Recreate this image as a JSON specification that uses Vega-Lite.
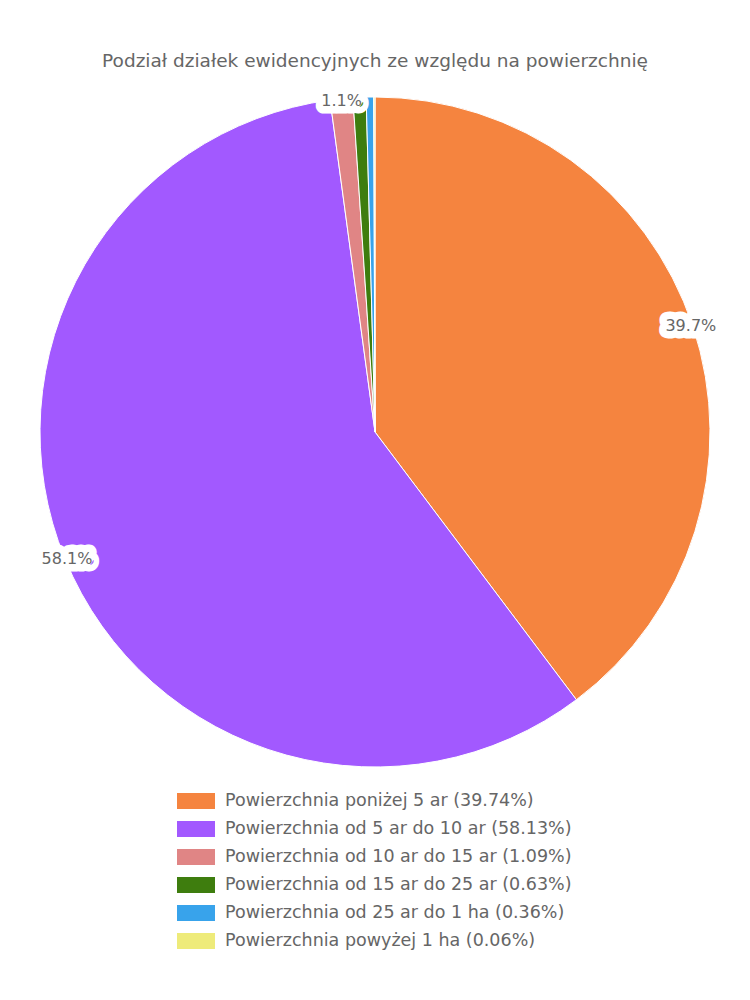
{
  "$schema": "https://vega.github.io/schema/vega-lite/v6.json",
  "width": 750,
  "height": 700,
  "padding": {"top": 51, "left": 0, "right": 0, "bottom": 0},
  "background": "white",
  "title": {
    "text": "Podział działek ewidencyjnych ze względu na powierzchnię",
    "anchor": "middle",
    "font": "DejaVu Sans",
    "fontSize": 18.5,
    "fontWeight": "normal",
    "color": "#666666",
    "offset": 12
  },
  "config": {"view": {"stroke": null}},
  "data": {
    "values": [
      {"category": "Powierzchnia poniżej 5 ar (39.74%)", "pct": 39.74, "order": 1, "label": "39.7%"},
      {"category": "Powierzchnia od 5 ar do 10 ar (58.13%)", "pct": 58.13, "order": 2, "label": "58.1%"},
      {"category": "Powierzchnia od 10 ar do 15 ar (1.09%)", "pct": 1.09, "order": 3, "label": "1.1%"},
      {"category": "Powierzchnia od 15 ar do 25 ar (0.63%)", "pct": 0.63, "order": 4, "label": ""},
      {"category": "Powierzchnia od 25 ar do 1 ha (0.36%)", "pct": 0.36, "order": 5, "label": ""},
      {"category": "Powierzchnia powyżej 1 ha (0.06%)", "pct": 0.06, "order": 6, "label": ""}
    ]
  },
  "encoding": {
    "theta": {"field": "pct", "type": "quantitative", "stack": true},
    "order": {"field": "order", "type": "quantitative", "sort": "ascending"},
    "color": {
      "field": "category",
      "type": "nominal",
      "scale": {
        "domain": [
          "Powierzchnia poniżej 5 ar (39.74%)",
          "Powierzchnia od 5 ar do 10 ar (58.13%)",
          "Powierzchnia od 10 ar do 15 ar (1.09%)",
          "Powierzchnia od 15 ar do 25 ar (0.63%)",
          "Powierzchnia od 25 ar do 1 ha (0.36%)",
          "Powierzchnia powyżej 1 ha (0.06%)"
        ],
        "range": ["#F5843F", "#A259FF", "#E08585", "#3E7D0E", "#38A3EB", "#EEEB7A"]
      },
      "legend": {
        "title": null,
        "orient": "none",
        "legendX": 186,
        "legendY": 709,
        "direction": "vertical",
        "symbolType": "M-1.9,-0.8H1.9V0.8H-1.9Z",
        "symbolSize": 400,
        "symbolStrokeWidth": 0,
        "labelFont": "DejaVu Sans",
        "labelFontSize": 17.5,
        "labelColor": "#666666",
        "labelOffset": 19,
        "rowPadding": 9,
        "labelLimit": 0
      }
    }
  },
  "layer": [
    {
      "mark": {"type": "arc", "outerRadius": 335, "stroke": "white", "strokeWidth": 1}
    },
    {
      "mark": {"type": "text", "radius": 333, "font": "DejaVu Sans", "fontSize": 16, "stroke": "white", "strokeWidth": 15, "strokeJoin": "round", "fill": "white"},
      "encoding": {"text": {"field": "label"}, "color": {"value": "white"}}
    },
    {
      "mark": {"type": "text", "radius": 333, "font": "DejaVu Sans", "fontSize": 16, "fill": "#666666"},
      "encoding": {"text": {"field": "label"}, "color": {"value": "#666666"}}
    }
  ]
}
